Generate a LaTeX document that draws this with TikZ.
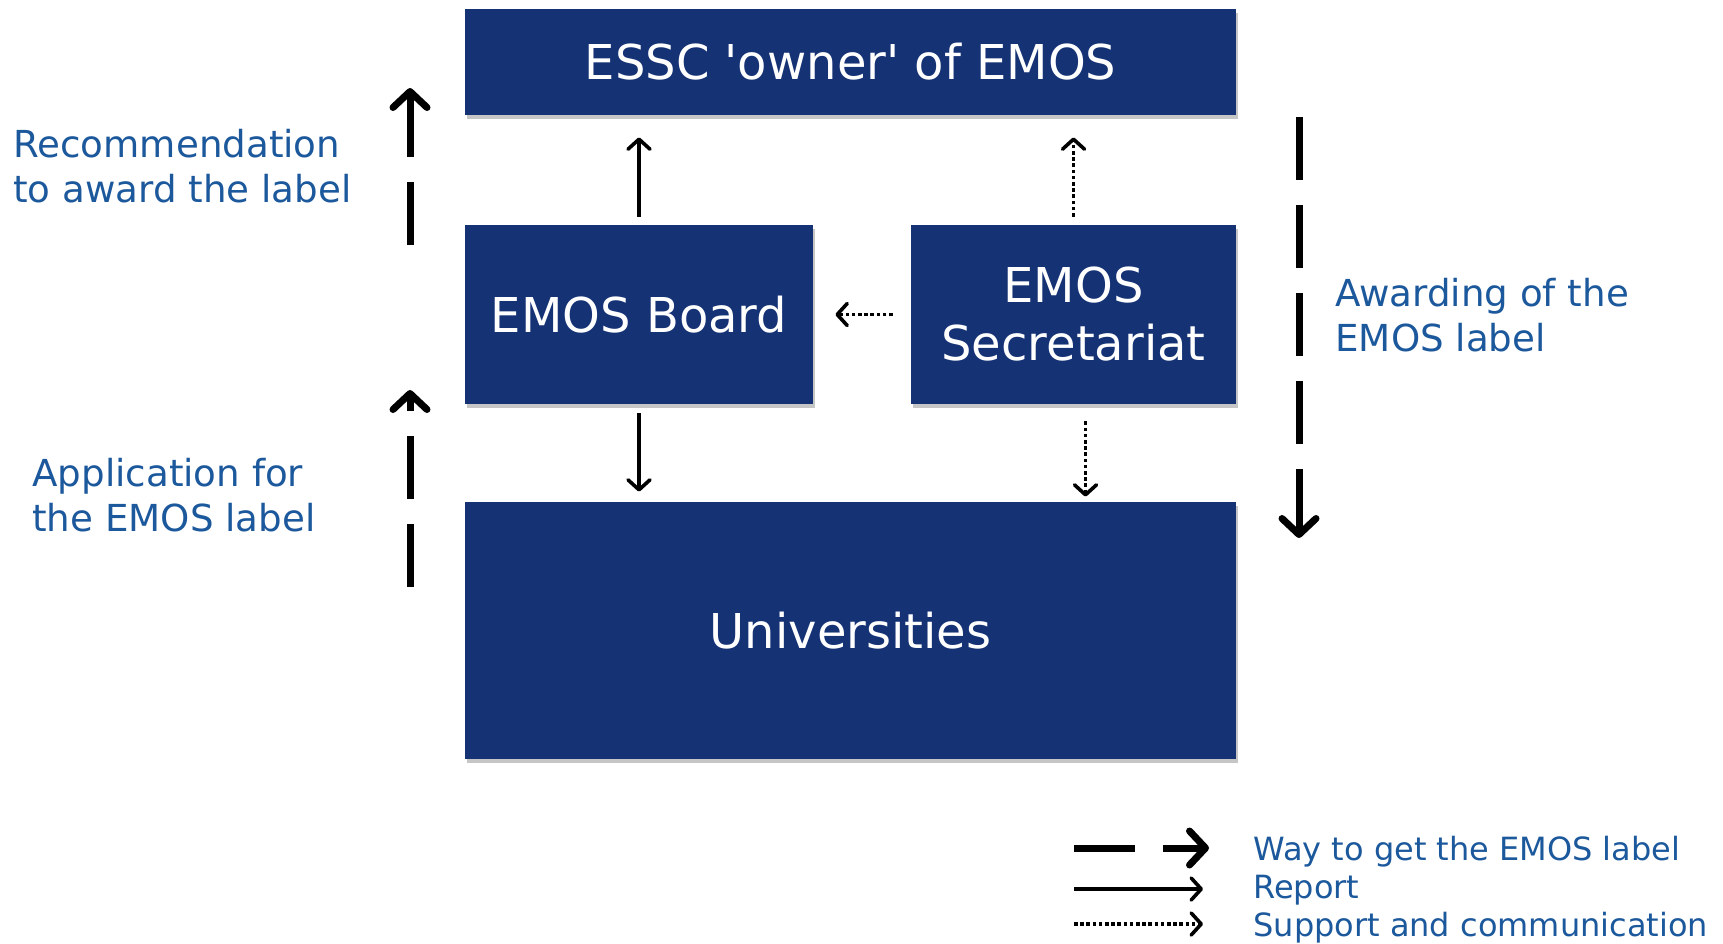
\documentclass[tikz,border=0pt]{standalone}
\usepackage{fontspec}
\setmainfont{DejaVu Sans}
\usetikzlibrary{arrows.meta,shadows}
\definecolor{emosblue}{RGB}{21,50,117}
\definecolor{labelblue}{RGB}{28,88,156}

\begin{document}
\begin{tikzpicture}[x=0.5pt,y=-0.5pt]
    \tikzstyle{every node}+=[inner sep=0pt]
    \tikzstyle{box}=[fill=emosblue, text=white, align=center, font=\fontsize{24}{29}\selectfont, drop shadow={shadow xshift=1pt, shadow yshift=-2pt, opacity=0.45}]
    \tikzstyle{lbl}=[text=labelblue, align=left, font=\fontsize{18.6}{22.5}\selectfont]
    \tikzstyle{legtext}=[text=labelblue, anchor=base west, font=\fontsize{16}{19}\selectfont]
    \tikzstyle{way}=[line width=3.5pt, dash pattern=on 31.5pt off 12.5pt, -{Straight Barb[length=8pt,width=17pt,round]}]
    \tikzstyle{report}=[line width=1.8pt, -{Straight Barb[length=5pt,width=11pt,round]}]
    \tikzstyle{support}=[report, dash pattern=on 1.8pt off 1.3pt]
    \useasboundingbox (0,0) rectangle (1723,943);
    \node [box, minimum width=385.5pt, minimum height=53pt] (essc) at (850.5,62) {ESSC \textquotesingle owner\textquotesingle{} of EMOS};
    \node [box, minimum width=174pt, minimum height=89.5pt] (board) at (639,314.5) {EMOS Board};
    \node [box, minimum width=162.5pt, minimum height=89.5pt] (sec) at (1073.5,314.5) {EMOS\\Secretariat};
    \node [box, minimum width=385.5pt, minimum height=128.5pt] (univ) at (850.5,630.5) {Universities};
    \draw [report, shorten <=4pt, shorten >=11pt] (board.north) -- (board.north |- essc.south);
    \draw [report, shorten <=4.5pt, shorten >=5pt] (board.south) -- (board.south |- univ.north);
    \draw [support, shorten <=4pt, shorten >=11pt] (sec.north) -- (sec.north |- essc.south);
    \coordinate (secdown) at ([xshift=6pt]sec.south);
    \draw [support, shorten <=8.5pt, shorten >=2.5pt] (secdown) -- (secdown |- univ.north);
    \draw [support, shorten <=9pt, shorten >=11pt] (sec.west) -- (board.east);
    \coordinate (recfrom) at (410,245);
    \coordinate (recto) at (410,88);
    \coordinate (appfrom) at (410,587);
    \coordinate (appto) at (410,390);
    \coordinate (awfrom) at (1299,117);
    \coordinate (awto) at (1299,538);
    \draw [way] (recfrom) -- (recto);
    \draw [way] (appfrom) -- (appto);
    \draw [way] (awfrom) -- (awto);
    \node [lbl, anchor=west] (rec) at (13,166) {Recommendation\\to award the label};
    \node [lbl, anchor=west] (app) at (32,495) {Application for\\the EMOS label};
    \node [lbl, anchor=west] (aw) at (1335,315) {Awarding of the\\EMOS label};
    \coordinate (waya) at (1074,848);
    \coordinate (wayb) at (1209,848);
    \coordinate (repa) at (1074,889);
    \coordinate (repb) at (1203,889);
    \coordinate (supa) at (1074,924);
    \coordinate (supb) at (1203,924);
    \draw [way, dash pattern=on 30.5pt off 14pt] (waya) -- (wayb);
    \draw [report] (repa) -- (repb);
    \draw [support] (supa) -- (supb);
    \node [legtext] (legway) at (1253,860) {Way to get the EMOS label};
    \node [legtext] (legrep) at (1253,898) {Report};
    \node [legtext] (legsup) at (1253,936) {Support and communication};
\end{tikzpicture}
\end{document}
